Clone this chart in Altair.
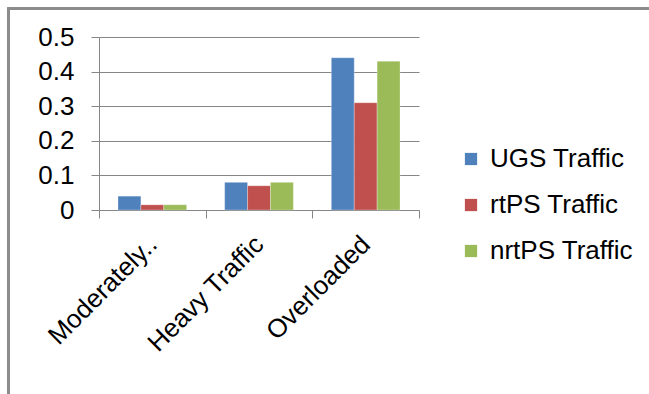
import altair as alt
import pandas as pd

# Load categories and per-service delay values
categories = ["Moderately..", "Heavy Traffic", "Overloaded"]
series_names = ["UGS Traffic", "rtPS Traffic", "nrtPS Traffic"]
ugs = [0.04, 0.08, 0.44]
rtps = [0.015, 0.07, 0.31]
nrtps = [0.015, 0.08, 0.43]
colors = ["#4F81BD", "#C0504D", "#9BBB59"]

rows = []
for name, vals in zip(series_names, [ugs, rtps, nrtps]):
    for cat, v in zip(categories, vals):
        rows.append({"category": cat, "series": name, "value": v})
df = pd.DataFrame(rows)

FONT = "Liberation Sans"
AXIS_GRAY = "#868686"

bars = alt.Chart(df).mark_bar(stroke="#ffffff", strokeOpacity=0.35, strokeWidth=0.8).encode(
    x=alt.X(
        "category:N",
        sort=categories,
        scale=alt.Scale(paddingInner=0, paddingOuter=0),
        axis=alt.Axis(
            title=None,
            labelAngle=-45,
            labelAlign="right",
            labelBaseline="middle",
            labelFontSize=26,
            labelFont=FONT,
            labelColor="#000000",
            labelPadding=22,
            tickBand="extent",
            tickSize=8,
            tickColor=AXIS_GRAY,
            domainColor=AXIS_GRAY,
            grid=False,
        ),
    ),
    xOffset=alt.XOffset(
        "series:N",
        sort=series_names,
        scale=alt.Scale(paddingOuter=0.83, paddingInner=0),
    ),
    y=alt.Y(
        "value:Q",
        scale=alt.Scale(domain=[0, 0.5]),
        axis=alt.Axis(
            title=None,
            values=[0, 0.1, 0.2, 0.3, 0.4, 0.5],
            labelExpr="datum.value == 0 ? '0' : format(datum.value, '.1f')",
            labelFontSize=26,
            labelFont=FONT,
            labelColor="#000000",
            labelPadding=17,
            tickSize=8,
            tickColor=AXIS_GRAY,
            domainColor=AXIS_GRAY,
            gridColor=AXIS_GRAY,
            gridWidth=1,
        ),
    ),
    color=alt.Color(
        "series:N",
        sort=series_names,
        scale=alt.Scale(domain=series_names, range=colors),
        legend=alt.Legend(
            title=None,
            orient="none",
            legendX=359,
            legendY=109,
            symbolType="square",
            symbolSize=150,
            symbolStrokeWidth=0,
            labelFontSize=26,
            labelFont=FONT,
            labelColor="#000000",
            labelOffset=6,
            rowPadding=20,
        ),
    ),
)

# Outer chart frame (top and left edges)
frame_left = alt.Chart(df).mark_rule(color="#8c8c8c", strokeWidth=2).encode(
    x=alt.value(-90.5), y=alt.value(-28.5), y2=alt.value(400)
)
frame_top = alt.Chart(df).mark_rule(color="#8c8c8c", strokeWidth=2).encode(
    x=alt.value(-91.5), x2=alt.value(560), y=alt.value(-28.5)
)

chart = (
    alt.layer(bars, frame_left, frame_top)
    .properties(
        width=320,
        height=173,
        padding={"left": 99, "top": 37, "right": 230, "bottom": 184},
        autosize=alt.AutoSizeParams(type="none"),
        background="#ffffff",
    )
    .configure_view(stroke=None)
)

chart.save("out.html", embed_options={"renderer": "svg", "actions": False})
